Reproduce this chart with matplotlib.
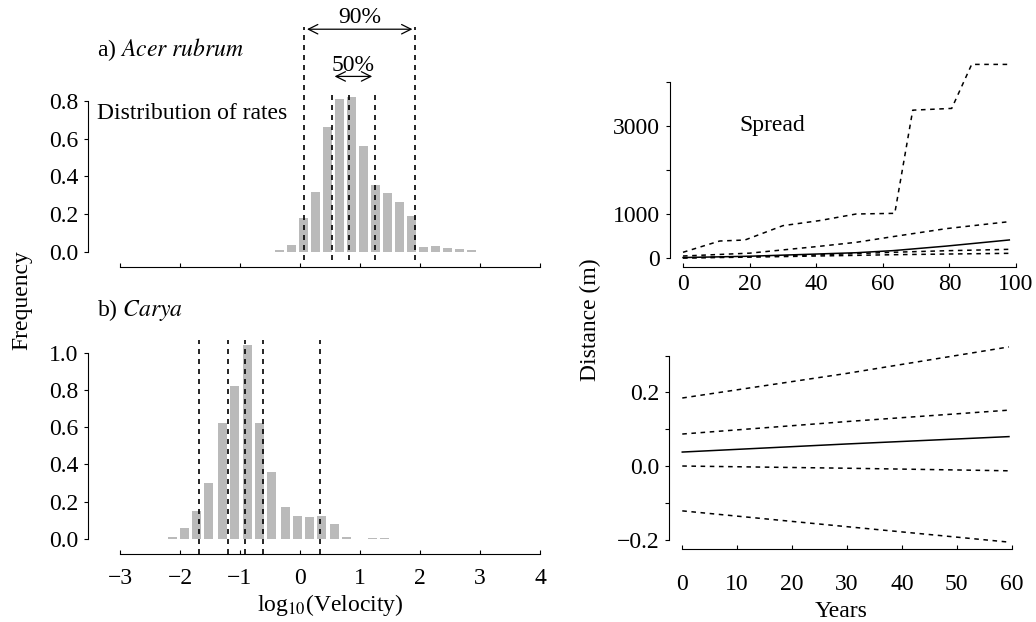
import numpy as np
import matplotlib
matplotlib.use('Agg')
import matplotlib.pyplot as plt

plt.rcParams['font.family'] = ['Liberation Serif', 'DejaVu Serif']
plt.rcParams['mathtext.fontset'] = 'stix'
plt.rcParams['font.size'] = 17

# a) Acer rubrum - histogram of log10 velocity
acer_centers = [-0.35, -0.15, 0.05, 0.25, 0.45, 0.65, 0.85, 1.05, 1.25, 1.45,
                1.65, 1.85, 2.05, 2.25, 2.45, 2.65, 2.85]
acer_freq = [0.01, 0.035, 0.18, 0.32, 0.66, 0.81, 0.82, 0.56, 0.355, 0.31,
             0.265, 0.19, 0.025, 0.03, 0.02, 0.015, 0.01]
acer_q = [0.07, 0.53, 0.82, 1.25, 1.92]   # 5%, 25%, 50%, 75%, 95%

# b) Carya
carya_centers = [-2.12, -1.93, -1.73, -1.52, -1.30, -1.10, -0.88, -0.68, -0.47,
                 -0.25, -0.05, 0.15, 0.35, 0.57, 0.77, 1.20, 1.40]
carya_freq = [0.01, 0.06, 0.15, 0.30, 0.62, 0.82, 1.04, 0.62, 0.36,
              0.17, 0.125, 0.12, 0.125, 0.08, 0.01, 0.005, 0.005]
carya_q = [-1.68, -1.20, -0.92, -0.62, 0.34]

# Spread (top right), distance in m
yrs_top = [0, 11, 18.6, 30, 41, 52, 63.6, 69, 80.7, 86.7, 97.6]
spread_hi = [130, 386, 409, 735, 850, 1000, 1015, 3360, 3400, 4400, 4400]
yrs_mid = [0, 20, 40, 52, 63, 79, 98]
spread_q75 = [45, 110, 258, 356, 485, 667, 826]
spread_med = [10, 40, 90, 120, 167, 270, 410]
spread_q25 = [5, 30, 70, 100, 130, 165, 197]
spread_lo = [0, 20, 45, 60, 75, 90, 106]

# bottom right
yrs_bot = [0, 30, 59.5]
bot_hi = [0.185, 0.252, 0.324]
bot_q75 = [0.087, 0.121, 0.152]
bot_med = [0.038, 0.060, 0.080]
bot_q25 = [0.0, -0.006, -0.013]
bot_lo = [-0.122, -0.165, -0.207]

W, H = 1036, 622
fig = plt.figure(figsize=(W / 100, H / 100), dpi=100)


def add_ax(x0, x1, ytop, ybot):
    return fig.add_axes([x0 / W, (H - ybot) / H, (x1 - x0) / W, (ybot - ytop) / H])


def style(ax, xpad=10):
    ax.spines['top'].set_visible(False)
    ax.spines['right'].set_visible(False)
    ax.patch.set_alpha(0)
    ax.tick_params(axis='x', direction='in', length=3, width=0.8, pad=xpad)
    ax.tick_params(axis='y', direction='out', length=3, width=0.8, pad=4)


dash = (0, (3, 3))
bar_col = '#bababa'

# ---- panel a
ax1 = add_ax(120, 540, 16, 252)
ax1.set_xlim(-3, 4)
ax1.set_ylim(0, 1.25)
style(ax1)
ax1.bar(acer_centers, acer_freq, width=0.15, color=bar_col)
tops = [1.19, 0.86, 0.86, 0.86, 1.19]
for q, t in zip(acer_q, tops):
    ax1.plot([q, q], [-0.04, t], color='k', lw=1.2, linestyle=dash, clip_on=False)
ax1.annotate('', xy=(acer_q[0], 1.18), xytext=(acer_q[4], 1.18),
             arrowprops=dict(arrowstyle='<->', lw=0.9, color='k'))
ax1.annotate('', xy=(acer_q[1], 0.93), xytext=(acer_q[3], 0.93),
             arrowprops=dict(arrowstyle='<->', lw=0.9, color='k'))
ax1.text((acer_q[0] + acer_q[4]) / 2, 1.24, '90%', ha='center', va='center')
ax1.text((acer_q[1] + acer_q[3]) / 2, 0.99, '50%', ha='center', va='center')
ax1.spines['left'].set_position(('data', -3.53))
ax1.spines['bottom'].set_position(('data', -0.08))
ax1.spines['left'].set_bounds(0, 0.8)
ax1.spines['bottom'].set_bounds(-3, 4)
ax1.set_yticks([0, 0.2, 0.4, 0.6, 0.8])
ax1.set_yticklabels(['0.0', '0.2', '0.4', '0.6', '0.8'])
ax1.set_xticks(range(-3, 5))
ax1.set_xticklabels([])
fig.text(97 / W, 1 - 50 / H, r'a) $\mathit{Acer\ rubrum}$', ha='left', va='center')
fig.text(97 / W, 1 - 114 / H, 'Distribution of rates', ha='left', va='center')

# ---- panel b
ax2 = add_ax(120, 540, 334, 539)
ax2.set_xlim(-3, 4)
ax2.set_ylim(0, 1.1)
style(ax2)
ax2.bar(carya_centers, carya_freq, width=0.15, color=bar_col)
for q in carya_q:
    ax2.plot([q, q], [-0.08, 1.07], color='k', lw=1.2, linestyle=dash, clip_on=False)
ax2.spines['left'].set_position(('data', -3.53))
ax2.spines['bottom'].set_position(('data', -0.08))
ax2.spines['left'].set_bounds(0, 1.0)
ax2.spines['bottom'].set_bounds(-3, 4)
ax2.set_yticks([0, 0.2, 0.4, 0.6, 0.8, 1.0])
ax2.set_yticklabels(['0.0', '0.2', '0.4', '0.6', '0.8', '1.0'])
ax2.set_xticks(range(-3, 5))
ax2.set_xticklabels(['\u22123', '\u22122', '\u22121', '0', '1', '2', '3', '4'])
ax2.set_xlabel('log$_{10}$(Velocity)', labelpad=2)
fig.text(97 / W, 1 - 310 / H, r'b) $\mathit{Carya}$', ha='left', va='center')
fig.text(22 / W, 1 - 300 / H, 'Frequency', rotation=90, ha='center', va='center')

# ---- spread panel (top right)
ax3 = add_ax(666.35, 1019.3, 60, 262.4)
ax3.set_xlim(-5, 101)
ax3.set_ylim(-100, 4500)
style(ax3, xpad=5)
ax3.plot(yrs_top, spread_hi, color='k', lw=1.1, linestyle=dash)
ax3.plot(yrs_mid, spread_q75, color='k', lw=1.1, linestyle=dash)
ax3.plot(yrs_mid, spread_med, color='k', lw=1.1)
ax3.plot(yrs_mid, spread_q25, color='k', lw=1.1, linestyle=dash)
ax3.plot(yrs_mid, spread_lo, color='k', lw=1.1, linestyle=dash)
ax3.spines['left'].set_position(('data', -4))
ax3.spines['bottom'].set_position(('data', -200))
ax3.spines['left'].set_bounds(0, 4000)
ax3.spines['bottom'].set_bounds(0, 100)
ax3.set_yticks([0, 1000, 2000, 3000, 4000])
ax3.set_yticklabels(['0', '1000', '', '3000', ''])
ax3.set_xticks(range(0, 101, 20))
ax3.text(17, 3000, 'Spread', ha='left', va='center')

# ---- bottom right
ax4 = add_ax(665.8, 1017.2, 344.7, 546.9)
ax4.set_xlim(-3, 61)
ax4.set_ylim(-0.22, 0.33)
style(ax4, xpad=18)
ax4.plot(yrs_bot, bot_hi, color='k', lw=1.1, linestyle=dash)
ax4.plot(yrs_bot, bot_q75, color='k', lw=1.1, linestyle=dash)
ax4.plot(yrs_bot, bot_med, color='k', lw=1.1)
ax4.plot(yrs_bot, bot_q25, color='k', lw=1.1, linestyle=dash)
ax4.plot(yrs_bot, bot_lo, color='k', lw=1.1, linestyle=dash)
ax4.spines['left'].set_position(('data', -2.4))
ax4.spines['bottom'].set_position(('data', -0.227))
ax4.spines['left'].set_bounds(-0.2, 0.3)
ax4.spines['bottom'].set_bounds(0, 60)
ax4.set_yticks([-0.2, -0.1, 0, 0.1, 0.2, 0.3])
ax4.set_yticklabels(['\u22120.2', '', '0.0', '', '0.2', ''])
ax4.set_xticks(range(0, 61, 10))
ax4.set_xlabel('Years', labelpad=4)
fig.text(590 / W, 1 - 320 / H, 'Distance (m)', rotation=90, ha='center', va='center')

fig.savefig('out.png', dpi=100)
